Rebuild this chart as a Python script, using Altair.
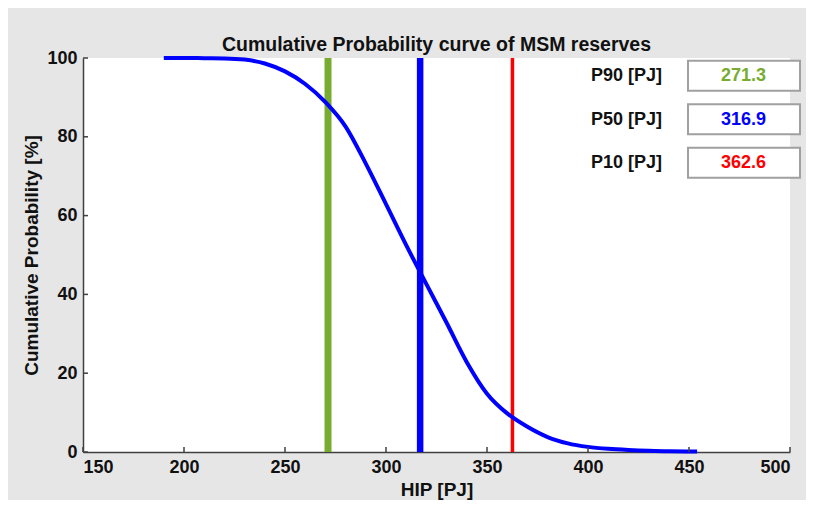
import altair as alt
import pandas as pd

# Cumulative probability curve (HIP [PJ] vs %)
hip = [190, 200, 210, 220, 230, 240, 250, 260, 270, 280, 290, 300, 310, 320,
       330, 340, 350, 360, 370, 380, 390, 400, 410, 420, 430, 440, 454]
prob = [100, 100, 99.95, 99.9, 99.6, 98.6, 96.6, 93.4, 88.8, 82.6, 73.2, 62.9, 52.5, 42.6,
        32.8, 22.8, 14.8, 9.8, 6.4, 3.8, 2.2, 1.3, 0.8, 0.5, 0.3, 0.2, 0.1]

# Percentile markers
p_labels = ["P90 [PJ]", "P50 [PJ]", "P10 [PJ]"]
p_values = [271.3, 316.9, 362.6]
p_colors = ["#77AC30", "#0000FF", "#FF0000"]
p_widths = [7, 6.5, 3.5]

x_ticks = [150, 200, 250, 300, 350, 400, 450, 500]
y_ticks = [0, 20, 40, 60, 80, 100]

FONT = "Liberation Sans, Arial"
W, H = 707, 394

curve_df = pd.DataFrame({"HIP": hip, "Prob": prob})
p_df = pd.DataFrame({"label": p_labels, "value": p_values, "color": p_colors,
                     "width": p_widths})

xscale = alt.Scale(domain=[150, 500], nice=False, zero=False)
yscale = alt.Scale(domain=[0, 100], nice=False)

base_x_axis = alt.Axis(values=x_ticks, ticks=False, grid=False, domainColor="#404040",
                       domainWidth=1.5, labelFont=FONT, labelFontSize=18,
                       labelFontWeight="bold", labelColor="#111", labelPadding=6,
                       title="HIP [PJ]", titleFont=FONT, titleFontSize=19,
                       titleFontWeight="bold", titleColor="#111", titlePadding=4)
base_y_axis = alt.Axis(values=y_ticks, ticks=False, grid=False, domainColor="#404040",
                       domainWidth=1.5, labelFont=FONT, labelFontSize=18,
                       labelFontWeight="bold", labelColor="#111", labelPadding=6,
                       title="Cumulative Probability [%]", titleFont=FONT,
                       titleFontSize=19, titleFontWeight="bold", titleColor="#111",
                       titlePadding=5)

curve = alt.Chart(curve_df).mark_line(color="#0000FF", strokeWidth=4,
                                      interpolate="monotone").encode(
    x=alt.X("HIP:Q", scale=xscale, axis=base_x_axis),
    y=alt.Y("Prob:Q", scale=yscale, axis=base_y_axis),
)

vlines = alt.Chart(p_df).mark_rule().encode(
    x=alt.X("value:Q", scale=xscale),
    y=alt.value(0),
    y2=alt.value(H),
    color=alt.Color("color:N", scale=None),
    strokeWidth=alt.StrokeWidth("width:Q", scale=None),
)

xt = alt.Chart(pd.DataFrame({"t": x_ticks})).mark_rule(color="#404040", strokeWidth=1.5).encode(
    x=alt.X("t:Q", scale=xscale), y=alt.value(H), y2=alt.value(H - 5))
yt = alt.Chart(pd.DataFrame({"t": y_ticks})).mark_rule(color="#404040", strokeWidth=1.5).encode(
    y=alt.Y("t:Q", scale=yscale), x=alt.value(0), x2=alt.value(5))

layers = [vlines, curve, xt, yt]
for i in range(3):
    row = p_df.iloc[[i]]
    top = 2.7 + 43.5 * i
    box = alt.Chart(row).mark_rect(fill="white", stroke="#A0A0A0", strokeWidth=2,
                                   clip=False).encode(
        x=alt.value(605), x2=alt.value(717), y=alt.value(top), y2=alt.value(top + 30))
    val = alt.Chart(row).mark_text(font=FONT, fontSize=18, fontWeight="bold",
                                   align="center", baseline="middle").encode(
        x=alt.value(660.5), y=alt.value(top + 15.5), text=alt.Text("value:Q", format=".1f"),
        color=alt.Color("color:N", scale=None))
    lab = alt.Chart(row).mark_text(font=FONT, fontSize=18, fontWeight="bold",
                                   align="right", baseline="middle", color="#111").encode(
        x=alt.value(579), y=alt.value(top + 15.5), text="label:N")
    layers += [box, val, lab]

chart = alt.layer(*layers).properties(
    width=W, height=H,
    title=alt.TitleParams("Cumulative Probability curve of MSM reserves", font=FONT,
                          fontSize=19.5, fontWeight="bold", color="#111", offset=2,
                          frame="group", dy=8),
    background="#E6E6E6",
    padding={"left": 75, "top": 50, "right": 16, "bottom": 48},
    autosize=alt.AutoSizeParams(type="none"),
).configure_view(fill="white", stroke=None)

chart.save("out.html", embed_options={"renderer": "svg", "actions": False})
